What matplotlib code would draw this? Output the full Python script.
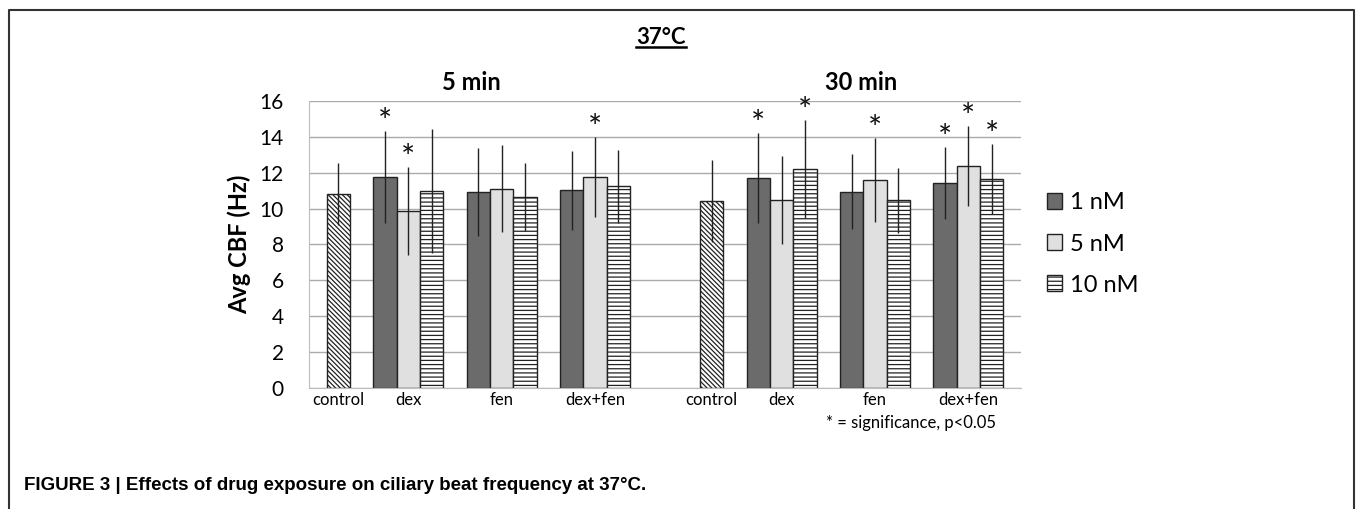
import numpy as np
import matplotlib
matplotlib.use("Agg")
import matplotlib.pyplot as plt
from matplotlib.patches import Patch
from matplotlib.lines import Line2D

plt.rcParams['font.family'] = ['Lato', 'DejaVu Sans']
plt.rcParams['hatch.linewidth'] = 0.9

# data (Hz)
times = ['5 min', '30 min']
groups = ['dex', 'fen', 'dex+fen']
series = ['1 nM', '5 nM', '10 nM']

control_mean = [10.83, 10.42]
control_err = [1.72, 2.28]

# rows: dex, fen, dex+fen ; cols: 1, 5, 10 nM
mean_5 = [[11.77, 9.84, 10.98],
          [10.94, 11.10, 10.64],
          [11.01, 11.77, 11.25]]
err_5 = [[2.55, 2.45, 3.43],
         [2.45, 2.43, 1.88],
         [2.20, 2.23, 2.03]]
mean_30 = [[11.70, 10.46, 12.18],
           [10.94, 11.59, 10.46],
           [11.44, 12.35, 11.66]]
err_30 = [[2.50, 2.45, 2.73],
          [2.08, 2.32, 1.80],
          [2.00, 2.23, 1.95]]
# significance markers (True = *)
sig_5 = [[True, True, False],
         [False, False, False],
         [False, True, False]]
sig_30 = [[True, False, True],
          [False, True, False],
          [True, True, True]]

colors = ['#6b6b6b', '#e0e0e0', 'white']
hatches = [None, None, '----']
edge = '#222222'

fig = plt.figure(figsize=(13.57, 5.09), dpi=100)
ax = fig.add_axes([0.2277, 0.2371, 0.5247, 0.5651])

w = 1.0
ticks, ticklabels = [], []
for p, (cm, ce, M, E, S) in enumerate(zip(control_mean, control_err,
                                         [mean_5, mean_30], [err_5, err_30],
                                         [sig_5, sig_30])):
    off = 16 * p
    ax.bar(off, cm, w, color='white', edgecolor=edge, hatch='\\' * 7, lw=1, zorder=2)
    ax.errorbar(off, cm, yerr=ce, fmt='none', ecolor='#222222', elinewidth=1, capsize=0, zorder=3)
    ticks.append(off)
    ticklabels.append('control')
    for g in range(3):
        c = off + 3 + 4 * g
        ticks.append(c)
        ticklabels.append(groups[g])
        for s in range(3):
            x = c + (s - 1) * w
            ax.bar(x, M[g][s], w, color=colors[s], edgecolor=edge, hatch=hatches[s], lw=1, zorder=2)
            ax.errorbar(x, M[g][s], yerr=E[g][s], fmt='none', ecolor='#222222',
                        elinewidth=1, capsize=0, zorder=3)
            if S[g][s]:
                ax.text(x, M[g][s] + E[g][s] + 0.45, '*', ha='center', va='center',
                        fontsize=24, color='#111111')

ax.set_xlim(-1.26, 29.26)
ax.set_ylim(0, 16)
ax.set_yticks(np.arange(0, 17, 2))
ax.set_xticks(ticks)
ax.set_xticklabels(ticklabels, fontsize=12)
ax.tick_params(axis='y', length=0, pad=18, labelsize=15)
ax.tick_params(axis='x', length=0, pad=3)
ax.grid(axis='y', color='#ababab', lw=1, zorder=0)
ax.set_axisbelow(True)
for sp in ['top', 'right']:
    ax.spines[sp].set_visible(False)
ax.spines['left'].set_color('#bdbdbd')
ax.spines['bottom'].set_color('#bdbdbd')
ax.set_ylabel('Avg CBF (Hz)', fontsize=17, fontweight='bold', labelpad=6)

handles = [Patch(facecolor=colors[i], edgecolor=edge, hatch=hatches[i]) for i in range(3)]
fig.legend(handles, series, loc='center left', bbox_to_anchor=(0.756, 0.5206),
           frameon=False, fontsize=17, handlelength=0.65, handleheight=0.65,
           handletextpad=0.3, labelspacing=0.85)

fig.text(471 / 1357, 1 - 82 / 509, times[0], ha='center', va='center', fontsize=17, fontweight='bold')
fig.text(861 / 1357, 1 - 82 / 509, times[1], ha='center', va='center', fontsize=17, fontweight='bold')
t = fig.text(661 / 1357, 1 - 38 / 509, '37°C', ha='center', va='center', fontsize=16, fontweight='bold')
fig.text(911 / 1357, 1 - 423 / 509, '* = significance, p<0.05', ha='center', va='center', fontsize=12)
fig.text(24 / 1357, 1 - 485 / 509, 'FIGURE 3 | Effects of drug exposure on ciliary beat frequency at 37°C.',
         ha='left', va='center', fontsize=13.5, fontweight='bold',
         family=['Liberation Sans', 'DejaVu Sans'])

# underline the title
fig.canvas.draw()
bb = t.get_window_extent().transformed(fig.transFigure.inverted())
fig.add_artist(Line2D([bb.x0, bb.x1], [bb.y0 + 0.002, bb.y0 + 0.002], transform=fig.transFigure,
                      color='black', lw=1.8))

# outer frame
fx0, fx1, fy1 = 9 / 1357, 1354 / 1357, 1 - 10 / 509
fig.add_artist(Line2D([fx0, fx0, fx1, fx1], [0, fy1, fy1, 0], transform=fig.transFigure,
                      color='#333333', lw=1.5))

fig.savefig('out.png', dpi=100)
